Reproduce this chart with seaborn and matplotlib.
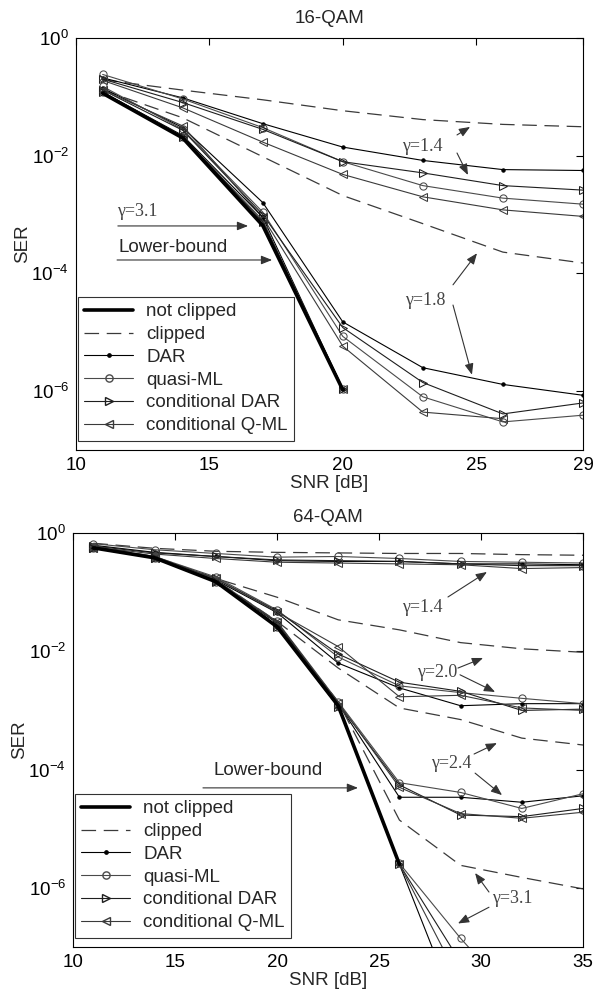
import numpy as np
import matplotlib
matplotlib.use("Agg")
import matplotlib.pyplot as plt
import seaborn as sns
from matplotlib.lines import Line2D
from matplotlib.ticker import FixedLocator, NullLocator, LogFormatterSciNotation

nan = np.nan

# ---------------- 16-QAM ----------------
snr16 = [11, 14, 17, 20, 23, 26, 29]
nc16 = [0.115, 0.020, 6.5e-4, 1.05e-6, nan, nan, nan]

q16_g14_clip = [0.195, 0.13, 0.089, 0.058, 0.041, 0.034, 0.031]
q16_g14_dar = [0.21, 0.096, 0.035, 0.014, 0.0083, 0.0058, 0.0056]
q16_g14_qml = [0.24, 0.092, 0.030, 0.0079, 0.0031, 0.0019, 0.0015]
q16_g14_cdar = [0.20, 0.080, 0.028, 0.0079, 0.0051, 0.0031, 0.0026]
q16_g14_cqml = [0.19, 0.065, 0.017, 0.0048, 0.0020, 0.0012, 0.00093]

q16_g18_clip = [0.13, 0.044, 0.0096, 0.0021, 7e-4, 2.3e-4, 1.5e-4]
q16_g18_dar = [0.14, 0.030, 1.6e-3, 1.5e-5, 2.5e-6, 1.3e-6, 8.5e-7]
q16_g18_qml = [0.15, 0.028, 1.1e-3, 8.5e-6, 8e-7, 3e-7, 3.9e-7]
q16_g18_cdar = [0.13, 0.027, 1.0e-3, 1.2e-5, 1.4e-6, 4.1e-7, 6.3e-7]
q16_g18_cqml = [0.13, 0.032, 9e-4, 5.8e-6, 4.4e-7, 3.4e-7, nan]

q16_g31_dar = [0.12, 0.022, 9e-4, 1.1e-6, nan, nan, nan]
q16_g31_qml = [0.12, 0.021, 8e-4, 1.1e-6, nan, nan, nan]
q16_g31_cdar = [0.12, 0.021, 7.5e-4, 1.1e-6, nan, nan, nan]
q16_g31_cqml = [0.12, 0.021, 7e-4, 1.1e-6, nan, nan, nan]

# ---------------- 64-QAM ----------------
snr64 = [11, 14, 17, 20, 23, 26, 29, 32, 35]
nc64 = [0.56, 0.38, 0.15, 0.026, 1.2e-3, 2.5e-6, nan, nan, nan]

q64_g14_clip = [0.67, 0.55, 0.49, 0.47, 0.46, 0.45, 0.45, 0.43, 0.42]
q64_g14_dar = [0.62, 0.47, 0.40, 0.34, 0.33, 0.33, 0.30, 0.30, 0.29]
q64_g14_qml = [0.66, 0.52, 0.45, 0.39, 0.40, 0.37, 0.33, 0.32, 0.31]
q64_g14_cdar = [0.60, 0.46, 0.40, 0.35, 0.34, 0.33, 0.30, 0.28, 0.28]
q64_g14_cqml = [0.58, 0.44, 0.37, 0.32, 0.31, 0.30, 0.29, 0.25, 0.26]

q64_g20_clip = [0.60, 0.40, 0.17, 0.082, 0.034, 0.023, 0.014, 0.011, 0.0096]
q64_g20_dar = [0.56, 0.38, 0.16, 0.045, 0.0063, 0.0024, 0.0012, 0.0013, 0.0013]
q64_g20_qml = [0.58, 0.40, 0.18, 0.050, 0.008, 0.0026, 0.0020, 0.0016, 0.0013]
q64_g20_cdar = [0.57, 0.39, 0.17, 0.048, 0.009, 0.0030, 0.0021, 0.0010, 0.00105]
q64_g20_cqml = [0.57, 0.39, 0.17, 0.046, 0.012, 0.0017, 0.0018, 0.0011, 0.0010]

q64_g24_clip = [0.57, 0.39, 0.16, 0.032, 5.2e-3, 1.1e-3, 7e-4, 3.4e-4, 2.6e-4]
q64_g24_dar = [0.56, 0.38, 0.155, 0.030, 1.3e-3, 3.4e-5, 3.4e-5, 2.8e-5, 3.6e-5]
q64_g24_qml = [0.57, 0.39, 0.16, 0.032, 1.4e-3, 6e-5, 4.1e-5, 2.2e-5, 3.9e-5]
q64_g24_cdar = [0.56, 0.38, 0.155, 0.031, 1.3e-3, 5.5e-5, 1.7e-5, 1.6e-5, 2.2e-5]
q64_g24_cqml = [0.56, 0.38, 0.155, 0.031, 1.35e-3, 5e-5, 1.8e-5, 1.5e-5, 1.9e-5]

q64_g31_clip = [0.56, 0.38, 0.15, 0.028, 1.4e-3, 1.4e-5, 2.4e-6, 1.5e-6, 9.6e-7]
q64_g31_dar = [0.56, 0.38, 0.15, 0.026, 1.15e-3, 2.5e-6, 6e-9, nan, nan]
q64_g31_qml = [0.56, 0.38, 0.15, 0.026, 1.2e-3, 2.6e-6, 1.4e-7, 1e-8, nan]
q64_g31_cdar = [0.56, 0.38, 0.15, 0.026, 1.15e-3, 2.5e-6, 5.5e-8, nan, nan]
q64_g31_cqml = [0.56, 0.38, 0.15, 0.026, 1.15e-3, 2.5e-6, 2.5e-8, nan, nan]

ser_ticks = [1e-6, 1e-4, 1e-2, 1e0]
legend_labels = ["not clipped", "clipped", "DAR", "quasi-ML",
                 "conditional DAR", "conditional Q-ML"]

sns.set_theme(style="white")
plt.rcParams["font.family"] = ["Liberation Sans", "DejaVu Sans"]
plt.rcParams["lines.scale_dashes"] = False

STYLES = {
    "nc": dict(color="black", linewidth=2.6, linestyle="-"),
    "clip": dict(color="#3a3a3a", linewidth=0.9, linestyle=(0, (10.5, 5.5))),
    "dar": dict(color="black", linewidth=0.8, linestyle="-", marker="o",
                markersize=2.4, markerfacecolor="black", markeredgecolor="black"),
    "qml": dict(color="#4a4a4a", linewidth=0.8, linestyle="-", marker="o",
                markersize=5.2, markerfacecolor="none", markeredgecolor="#4a4a4a"),
    "cdar": dict(color="#1e1e1e", linewidth=0.8, linestyle="-", marker=">",
                 markersize=5.5, markerfacecolor="none", markeredgecolor="#1e1e1e"),
    "cqml": dict(color="#3a3a3a", linewidth=0.8, linestyle="-", marker="<",
                 markersize=5.5, markerfacecolor="none", markeredgecolor="#3a3a3a"),
}
LEGEND_KEYS = ["nc", "clip", "dar", "qml", "cdar", "cqml"]

panel16 = [
    ("clip", q16_g14_clip), ("dar", q16_g14_dar), ("qml", q16_g14_qml),
    ("cdar", q16_g14_cdar), ("cqml", q16_g14_cqml),
    ("clip", q16_g18_clip), ("dar", q16_g18_dar), ("qml", q16_g18_qml),
    ("cdar", q16_g18_cdar), ("cqml", q16_g18_cqml),
    ("dar", q16_g31_dar), ("qml", q16_g31_qml),
    ("cdar", q16_g31_cdar), ("cqml", q16_g31_cqml),
    ("nc", nc16),
]
panel64 = [
    ("clip", q64_g14_clip), ("dar", q64_g14_dar), ("qml", q64_g14_qml),
    ("cdar", q64_g14_cdar), ("cqml", q64_g14_cqml),
    ("clip", q64_g20_clip), ("dar", q64_g20_dar), ("qml", q64_g20_qml),
    ("cdar", q64_g20_cdar), ("cqml", q64_g20_cqml),
    ("clip", q64_g24_clip), ("dar", q64_g24_dar), ("qml", q64_g24_qml),
    ("cdar", q64_g24_cdar), ("cqml", q64_g24_cqml),
    ("clip", q64_g31_clip), ("dar", q64_g31_dar), ("qml", q64_g31_qml),
    ("cdar", q64_g31_cdar), ("cqml", q64_g31_cqml),
    ("nc", nc64),
]

FS = 13.5
GAMMA_FONT = dict(family=["Liberation Serif", "DejaVu Serif"], fontsize=13,
                  color="#444444")
ARROW = dict(arrowstyle="-|>,head_length=0.55,head_width=0.22",
             color="#333333", lw=0.8, shrinkA=0, shrinkB=0)


def draw_panel(ax, snr, series, xticks, title, title_pad):
    ax.set_yscale("log")
    for key, vals in series:
        sns.lineplot(x=snr, y=vals, ax=ax, errorbar=None, legend=False,
                     **STYLES[key])
    ax.set_xlim(10, snr[-1])
    ax.set_ylim(1e-7, 1)
    ax.set_xticks(xticks)
    ax.yaxis.set_major_locator(FixedLocator(ser_ticks))
    ax.yaxis.set_major_formatter(LogFormatterSciNotation())
    ax.yaxis.set_minor_locator(NullLocator())
    ax.set_xlabel("SNR [dB]", fontsize=FS, labelpad=1)
    ax.set_ylabel("SER", fontsize=FS, labelpad=0)
    ax.set_title(title, fontsize=FS, pad=title_pad)
    ax.tick_params(direction="in", top=True, right=True, length=5,
                   width=0.8, labelsize=FS, pad=5, colors="black")
    for sp in ax.spines.values():
        sp.set_visible(True)
        sp.set_color("black")
        sp.set_linewidth(0.8)

    handles = [Line2D([0], [0], **STYLES[k]) for k in LEGEND_KEYS]
    leg = ax.legend(handles, legend_labels, loc="lower left",
                    bbox_to_anchor=(0.0, 0.018), borderaxespad=0.1,
                    fontsize=FS, frameon=True, fancybox=False,
                    handlelength=2.6, handletextpad=0.7, labelspacing=0.3,
                    borderpad=0.35)
    leg.get_frame().set_edgecolor("black")
    leg.get_frame().set_linewidth(0.8)


def gamma_note(ax, text, pos, arrows):
    ax.text(pos[0], pos[1], text, ha="center", va="center", **GAMMA_FONT)
    for start, end in arrows:
        ax.annotate("", xy=end, xytext=start, arrowprops=ARROW)


fig = plt.figure(figsize=(5.94, 9.96), dpi=100)
ax1 = fig.add_axes([0.1279, 0.5482, 0.8535, 0.4137])
ax2 = fig.add_axes([0.1229, 0.0492, 0.8586, 0.4157])

draw_panel(ax1, snr16, panel16, [10, 15, 20, 25, 29], "16-QAM", 11)
draw_panel(ax2, snr64, panel64, [10, 15, 20, 25, 30, 35], "64-QAM", 8)

# annotations, 16-QAM
gamma_note(ax1, "\u03b3=1.4", (22.97, 0.0141),
           [((24.28, 0.0225), (24.77, 0.0308)),
            ((24.28, 0.0111), (24.69, 0.0047))])
gamma_note(ax1, "\u03b3=1.8", (23.08, 3.5e-5),
           [((24.13, 6.4e-5), (25.03, 2.2e-4)),
            ((24.13, 2.9e-5), (24.84, 1.9e-6))])
ax1.text(11.55, 8.0e-4, "\u03b3=3.1", ha="left", va="bottom", **GAMMA_FONT)
ax1.annotate("", xy=(16.45, 6.4e-4), xytext=(11.57, 6.4e-4), arrowprops=ARROW)
ax1.text(11.6, 2.8e-4, "Lower-bound", ha="left", va="center", fontsize=FS)
ax1.annotate("", xy=(17.35, 1.69e-4), xytext=(11.54, 1.69e-4), arrowprops=ARROW)

# annotations, 64-QAM
gamma_note(ax2, "\u03b3=1.4", (27.11, 0.054),
           [((28.38, 0.0827), (30.29, 0.219))])
gamma_note(ax2, "\u03b3=2.0", (27.84, 4.3e-3),
           [((28.87, 5.2e-3), (30.10, 7.7e-3)),
            ((28.97, 4.0e-3), (30.69, 2.05e-3))])
gamma_note(ax2, "\u03b3=2.4", (28.53, 1.29e-4),
           [((29.66, 1.83e-4), (30.78, 2.8e-4)),
            ((29.71, 8.7e-5), (31.03, 3.7e-5))])
gamma_note(ax2, "\u03b3=3.1", (31.52, 6.7e-7),
           [((30.39, 8.5e-7), (29.71, 1.78e-6)),
            ((30.39, 4.7e-7), (28.87, 2.5e-7))])
ax2.text(19.56, 9.8e-5, "Lower-bound", ha="center", va="center", fontsize=FS)
ax2.annotate("", xy=(23.97, 4.9e-5), xytext=(16.37, 4.9e-5), arrowprops=ARROW)

fig.savefig("out.png", dpi=100)
plt.close(fig)
